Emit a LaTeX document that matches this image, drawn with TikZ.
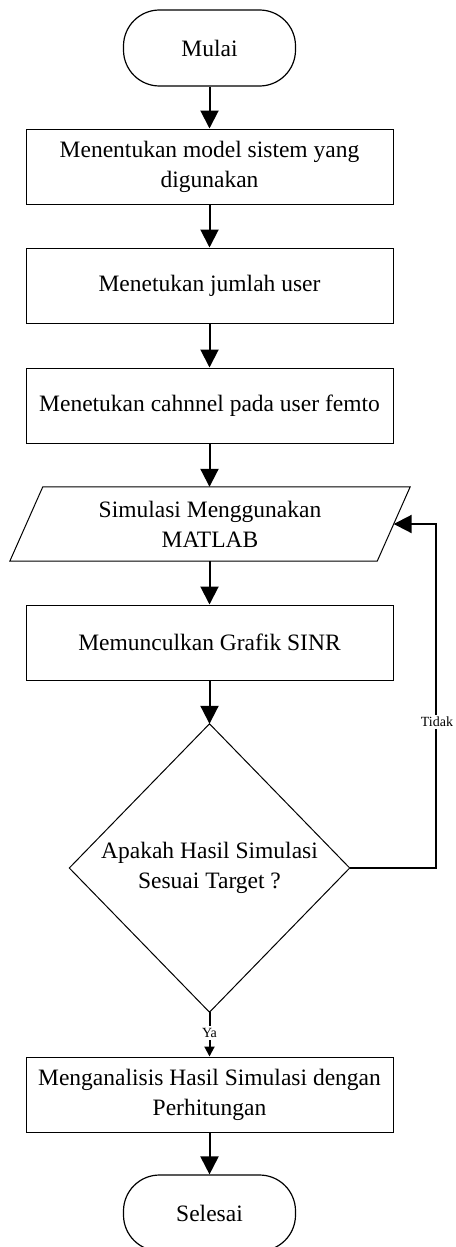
\documentclass[tikz,border=0pt]{standalone}
\usepackage{fontspec}
\setmainfont{Liberation Serif}
\usetikzlibrary{arrows.meta,calc}
\begin{document}
\begin{tikzpicture}[x=1pt,y=-1pt,
  base/.style={font=\fontsize{23.5}{30}\selectfont, align=center, inner sep=0pt},
  procbox/.style={base, draw, line width=1pt, minimum width=367pt, minimum height=75pt},
  term/.style={base, draw, line width=1.2pt, minimum width=172pt, minimum height=76pt, rounded corners=36pt},
  flow/.style={line width=2pt, -{Triangle[length=18pt,width=18pt]}},
  link/.style={line width=2pt},
  lbl/.style={font=\fontsize{14}{16}\selectfont, fill=white, inner sep=2pt},
]
\clip (0,0) rectangle (455,1247);
\useasboundingbox (0,0) rectangle (455,1247);
\fill[white] (0,0) rectangle (455,1247);

% start / end
\node[term] (start) at (209.5,48) {Mulai};
\node[term] (stop) at (209.5,1213) {Selesai};

% process steps
\node[procbox] (model) at (209.5,166.5) {Menentukan model sistem yang\\digunakan};
\node[procbox] (user) at (209.5,285.5) {Menetukan jumlah user};
\node[procbox] (chan) at (209.5,405.5) {Menetukan cahnnel pada user femto};

% input / output (parallelogram)
\node[base, minimum width=367pt, minimum height=74pt] (sim) at (210,524) {Simulasi Menggunakan\\MATLAB};
\draw[line width=1pt]
  ([xshift=16.5pt]sim.north west) -- ([xshift=16.5pt]sim.north east) --
  ([xshift=-16.5pt]sim.south east) -- ([xshift=-16.5pt]sim.south west) -- cycle;

\node[procbox] (sinr) at (209.5,642.5) {Memunculkan Grafik SINR};

% decision
\node[base, minimum width=280pt, minimum height=288pt] (dia) at (209.5,868) {Apakah Hasil Simulasi\\Sesuai Target ?};
\draw[line width=1pt] (dia.north) -- (dia.east) -- (dia.south) -- (dia.west) -- cycle;

\node[procbox] (anal) at (209.5,1094.5) {Menganalisis Hasil Simulasi dengan\\Perhitungan};

% connectors
\draw[flow] (start) -- (model);
\draw[flow] (model) -- (user);
\draw[flow] (user) -- (chan);
\draw[flow] (chan) -- (sim.north -| chan.south);
\draw[flow] (sim.south -| sinr.north) -- (sinr);
\draw[flow] (sinr) -- (dia.north);

\coordinate (loopx) at (436,0);
\draw[flow] (dia.east) -- (dia.east -| loopx) |- (sim.east);
\node[lbl] (tidak) at (437,722) {Tidak};

\draw[link] (dia.south) -- (anal.north |- 0,1030);
\draw[link, -{Triangle[length=10pt,width=10pt]}] (anal.north |- 0,1036) -- (anal.north);
\node[lbl] (ya) at (209.5,1033) {Ya};

\draw[flow] (anal) -- (stop);
\end{tikzpicture}
\end{document}
